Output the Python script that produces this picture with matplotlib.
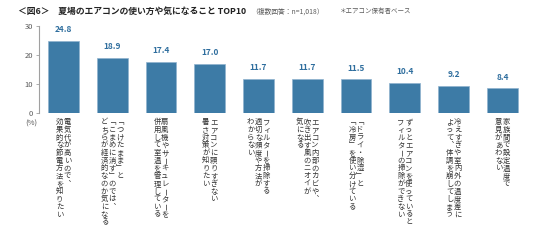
import matplotlib.pyplot as plt

plt.rcParams['font.family'] = ['Noto Sans CJK JP', 'DejaVu Sans']

values = [24.8, 18.9, 17.4, 17.0, 11.7, 11.7, 11.5, 10.4, 9.2, 8.4]
labels = [
    ["電気代が高いので、", "効果的な節電方法を知りたい"],
    ["「つけたまま」と", "「こまめに消す」のでは、", "どちらが経済的なのか気になる"],
    ["扇風機やサーキュレーターを", "併用して室温を管理している"],
    ["エアコンに頼りすぎない", "暑さ対策が知りたい"],
    ["フィルターを掃除する", "適切な頻度や方法が", "わからない"],
    ["エアコン内部のカビや、", "吹き出す風のニオイが", "気になる"],
    ["「ドライ・除湿」と", "「冷房」を使い分けている"],
    ["ずっとエアコンを使っていると", "フィルターの掃除ができない"],
    ["冷えすぎや室内外の温度差に", "よって、体調を崩してしまう"],
    ["家族間で設定温度で", "意見があわない"],
]
yticks = [0, 10, 20, 30]

bar_color = '#3d7ba6'
val_color = '#2f6e9e'
gray = '#595959'

# vertical writing forms
vmap = {'「': '\ufe41', '」': '\ufe42', '、': '\ufe11', '。': '\ufe12'}

fig = plt.figure(figsize=(5.36, 2.43), dpi=100)
ax = fig.add_axes([0.0728, 0.536, 0.910, 0.357])

x = list(range(len(values)))
ax.bar(x, values, width=0.63, color=bar_color, edgecolor='#8fb3cf', linewidth=0.5)
ax.set_xlim(-0.5, len(values) - 0.5)
ax.set_ylim(0, 30)
ax.set_yticks(yticks)
ax.set_xticks([])
ax.tick_params(axis='y', labelsize=5.5, labelcolor=gray, color='#a0a0a0',
               length=2.5, width=0.6, pad=2)
for s in ['top', 'right', 'bottom']:
    ax.spines[s].set_visible(False)
ax.spines['left'].set_color('#a0a0a0')
ax.spines['left'].set_linewidth(0.8)

for i, v in enumerate(values):
    ax.annotate(f'{v:.1f}', (i, v), xytext=(0, 5), textcoords='offset points',
                ha='center', va='bottom', fontsize=6, fontweight='bold', color=val_color)

# vertical category labels, columns right to left
col_pitch = 5.6
char_pitch = 5.55
for i, lines in enumerate(labels):
    n = len(lines)
    for j, line in enumerate(lines):
        dx = ((n - 1) / 2 - j) * col_pitch
        for k, ch in enumerate(line):
            rot = 0
            if ch == 'ー':
                rot = -90
            ch = vmap.get(ch, ch)
            ax.annotate(ch, (i, 0), xycoords=('data', 'axes fraction'),
                        xytext=(dx, -4.0 - k * char_pitch - char_pitch / 2),
                        textcoords='offset points', ha='center', va='center',
                        fontsize=5.3, color='#333333', rotation=rot,
                        annotation_clip=False)

fig.text(31 / 536, 1 - 124 / 243, '(%)', fontsize=5.5, color=gray, ha='center', va='center')

fig.text(18 / 536, 1 - 11 / 243, '＜図6＞　夏場のエアコンの使い方や気になること TOP10',
         fontsize=6.35, fontweight='bold', color='#222222', ha='left', va='center')
fig.text(251 / 536, 1 - 11.5 / 243, '（複数回答：n=1,018）', fontsize=4.9,
         color=gray, ha='left', va='center')
fig.text(340 / 536, 1 - 11.5 / 243, '＊エアコン保有者ベース', fontsize=4.7,
         color=gray, ha='left', va='center')

fig.savefig('out.png', dpi=100)
